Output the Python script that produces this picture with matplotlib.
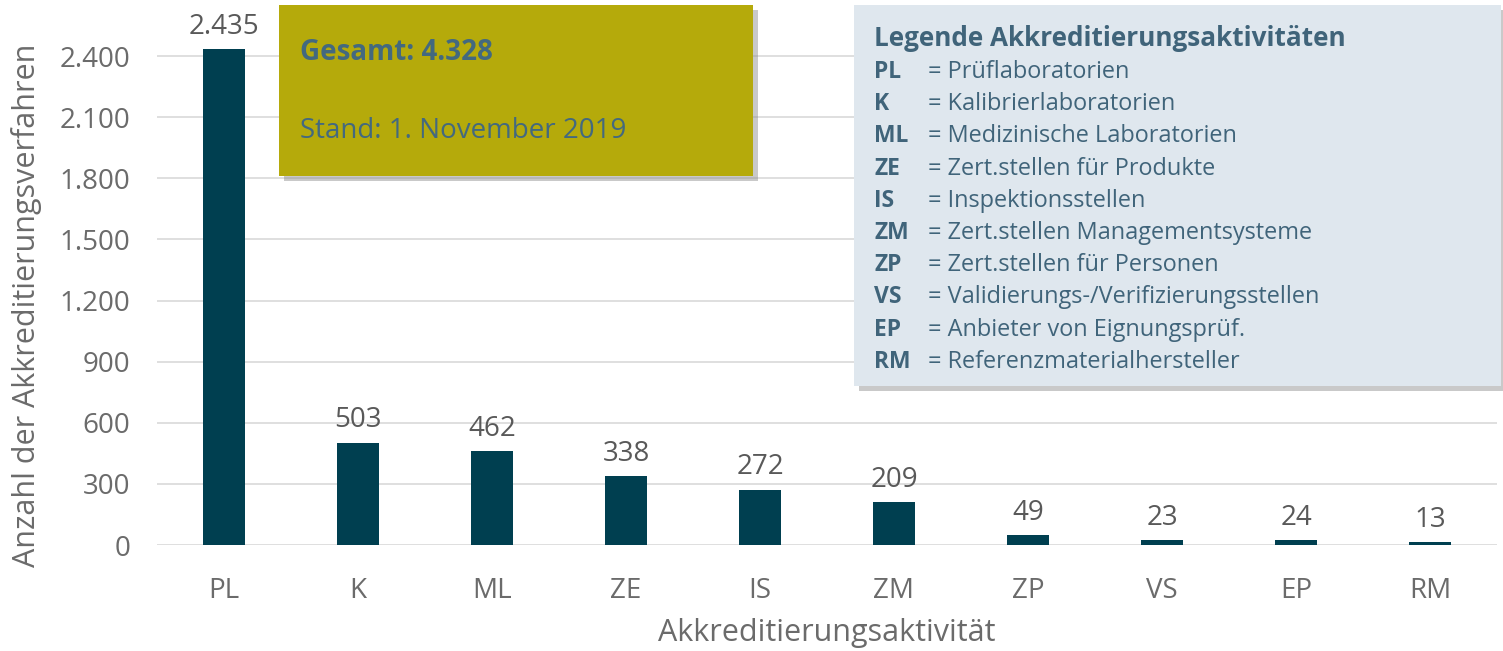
import matplotlib
matplotlib.use("Agg")
import matplotlib.pyplot as plt
from matplotlib.patches import Rectangle
from matplotlib.ticker import FuncFormatter

# data
kategorien = ["PL", "K", "ML", "ZE", "IS", "ZM", "ZP", "VS", "EP", "RM"]
anzahl = [2435, 503, 462, 338, 272, 209, 49, 23, 24, 13]
y_ticks = [0, 300, 600, 900, 1200, 1500, 1800, 2100, 2400]

legende_kurz = ["PL", "K", "ML", "ZE", "IS", "ZM", "ZP", "VS", "EP", "RM"]
legende_lang = ["Prüflaboratorien", "Kalibrierlaboratorien", "Medizinische Laboratorien",
                "Zert.stellen für Produkte", "Inspektionsstellen",
                "Zert.stellen Managementsysteme", "Zert.stellen für Personen",
                "Validierungs-/Verifizierungsstellen", "Anbieter von Eignungsprüf.",
                "Referenzmaterialhersteller"]
gesamt_text = "Gesamt: 4.328"
stand_text = "Stand: 1. November 2019"

plt.rcParams['font.family'] = ['Open Sans', 'DejaVu Sans']

W, H = 1503, 651
fig = plt.figure(figsize=(W / 100, H / 100), dpi=100)

# pixel helpers
def fx(px):
    return px / W

def fy(py):
    return 1 - py / H

ax = fig.add_axes([fx(157), fy(545), fx(1497) - fx(157), fy(0) - fy(545)])

bar_col = "#003f50"
grau = "#6b6b6b"
ax.bar(range(len(kategorien)), anzahl, width=0.31, color=bar_col, zorder=3)
for i, v in enumerate(anzahl):
    ax.text(i, v + 40, f"{v:,}".replace(",", "."), ha="center", va="bottom",
            fontsize=20, color="#595959")

ax.set_xlim(-0.5, len(kategorien) - 0.5)
ax.set_ylim(0, 2675)
ax.set_yticks(y_ticks)
ax.yaxis.set_major_formatter(FuncFormatter(lambda v, p: f"{int(v):,}".replace(",", ".")))
ax.set_xticks(range(len(kategorien)))
ax.set_xticklabels(kategorien)
ax.tick_params(axis="both", length=0, labelsize=20, labelcolor=grau)
ax.tick_params(axis="x", pad=23)
ax.tick_params(axis="y", pad=19)
ax.grid(axis="y", color="#d9d9d9", lw=1.2, zorder=0)
for s in ax.spines.values():
    s.set_visible(False)

# axis titles placed like in the original
fig.text(fx(27), fy(305), "Anzahl der Akkreditierungsverfahren", fontsize=22, color=grau,
         rotation=90, ha="center", va="center")
fig.text(fx(827), fy(633), "Akkreditierungsaktivität", fontsize=22, color=grau,
         ha="center", va="center")

# boxes with shadow
def box(x0, y0, x1, y1, farbe):
    sh = Rectangle((fx(x0 + 5), fy(y1 + 5)), fx(x1) - fx(x0), fy(y0) - fy(y1),
                   transform=fig.transFigure, facecolor="#888888", alpha=0.45,
                   edgecolor="none", zorder=4)
    fig.add_artist(sh)
    r = Rectangle((fx(x0), fy(y1)), fx(x1) - fx(x0), fy(y0) - fy(y1),
                  transform=fig.transFigure, facecolor=farbe, edgecolor="none", zorder=5)
    fig.add_artist(r)

box(279, 5, 753, 176, "#b5aa0b")
txt_col = "#43697f"
fig.text(fx(300), fy(53), gesamt_text, fontsize=20, fontweight="bold", color=txt_col,
         va="center", zorder=6)
fig.text(fx(300), fy(131), stand_text, fontsize=20, color=txt_col, va="center", zorder=6)

box(854, 5, 1501, 386, "#dfe7ee")
fig.text(fx(874), fy(38), "Legende Akkreditierungsaktivitäten", fontsize=18.8,
         fontweight="bold", color="#40647a", va="center", zorder=6)
for i, (k, l) in enumerate(zip(legende_kurz, legende_lang)):
    yy = fy(72 + i * 32.2)
    fig.text(fx(874), yy, k, fontsize=16.5, fontweight="bold", color="#40647a",
             va="center", zorder=6)
    fig.text(fx(928), yy, "= " + l, fontsize=16.9, color="#40647a", va="center", zorder=6)

fig.savefig("out.png", dpi=100)
